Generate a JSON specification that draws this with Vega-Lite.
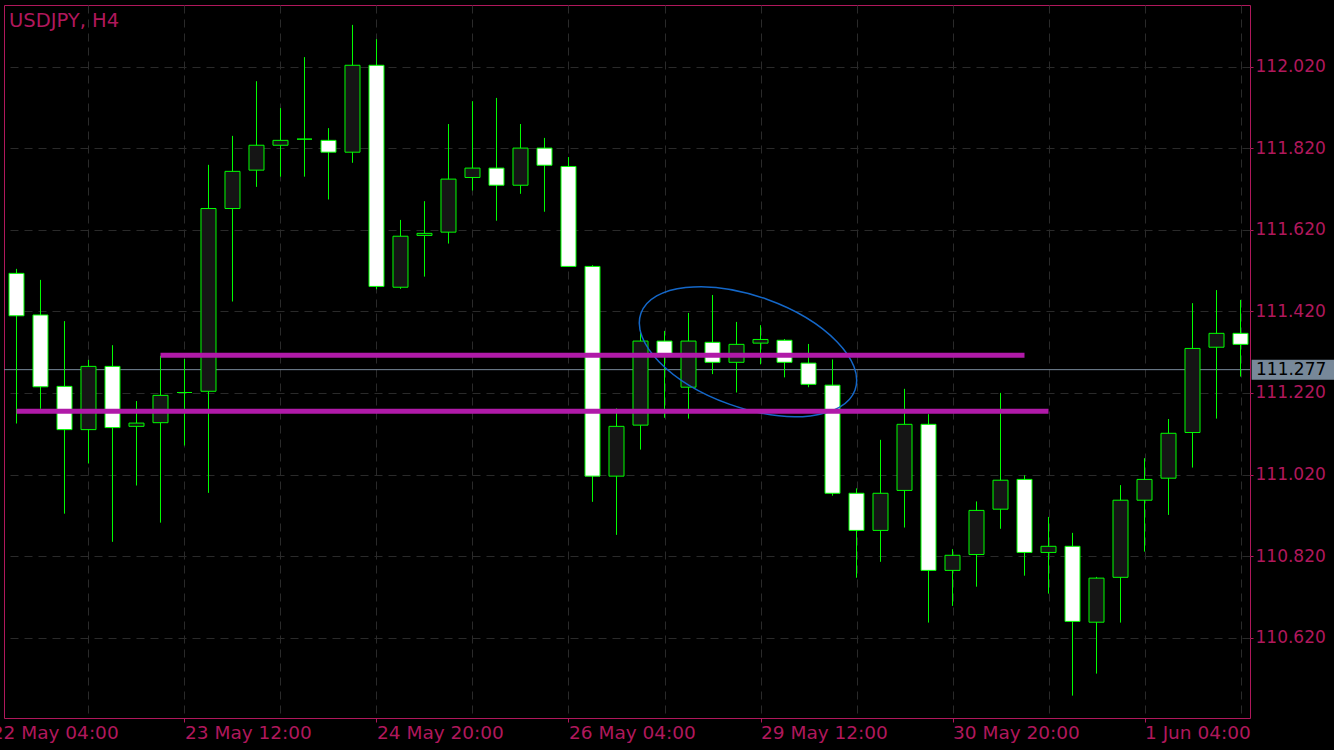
{
  "$schema": "https://vega.github.io/schema/vega-lite/v6.json",
  "autosize": "none",
  "width": 1246,
  "height": 713,
  "padding": {"left": 4, "top": 5, "right": 84, "bottom": 32},
  "background": "#000000",
  "title": {"text": "USDJPY, H4", "anchor": "start", "orient": "top", "frame": "group", "offset": -41, "dx": 5, "baseline": "alphabetic", "color": "#B0185C", "font": "DejaVu Sans", "fontSize": 19.5, "fontWeight": "normal"},
  "config": {"view": {"stroke": "#B0185C", "strokeWidth": 1}},
  "resolve": {"axis": {"x": "independent", "y": "independent"}},
  "datasets": {
    "candles": [
      {"i": 0, "t": "22 May 08:00", "o": 111.513, "h": 111.524, "l": 111.145, "c": 111.409},
      {"i": 1, "t": "22 May 12:00", "o": 111.411, "h": 111.497, "l": 111.181, "c": 111.235},
      {"i": 2, "t": "22 May 16:00", "o": 111.236, "h": 111.396, "l": 110.924, "c": 111.130},
      {"i": 3, "t": "22 May 20:00", "o": 111.130, "h": 111.301, "l": 111.047, "c": 111.285},
      {"i": 4, "t": "23 May 00:00", "o": 111.285, "h": 111.337, "l": 110.855, "c": 111.135},
      {"i": 5, "t": "23 May 04:00", "o": 111.138, "h": 111.200, "l": 110.993, "c": 111.146},
      {"i": 6, "t": "23 May 08:00", "o": 111.147, "h": 111.311, "l": 110.902, "c": 111.214},
      {"i": 7, "t": "23 May 12:00", "o": 111.221, "h": 111.303, "l": 111.091, "c": 111.221},
      {"i": 8, "t": "23 May 16:00", "o": 111.224, "h": 111.779, "l": 110.975, "c": 111.672},
      {"i": 9, "t": "23 May 20:00", "o": 111.672, "h": 111.850, "l": 111.444, "c": 111.763},
      {"i": 10, "t": "24 May 00:00", "o": 111.766, "h": 111.984, "l": 111.725, "c": 111.827},
      {"i": 11, "t": "24 May 04:00", "o": 111.827, "h": 111.918, "l": 111.750, "c": 111.839},
      {"i": 12, "t": "24 May 08:00", "o": 111.842, "h": 112.043, "l": 111.750, "c": 111.842},
      {"i": 13, "t": "24 May 12:00", "o": 111.839, "h": 111.869, "l": 111.694, "c": 111.810},
      {"i": 14, "t": "24 May 16:00", "o": 111.810, "h": 112.122, "l": 111.784, "c": 112.023},
      {"i": 15, "t": "24 May 20:00", "o": 112.023, "h": 112.087, "l": 111.474, "c": 111.481},
      {"i": 16, "t": "25 May 00:00", "o": 111.479, "h": 111.644, "l": 111.475, "c": 111.604},
      {"i": 17, "t": "25 May 04:00", "o": 111.606, "h": 111.690, "l": 111.505, "c": 111.611},
      {"i": 18, "t": "25 May 08:00", "o": 111.614, "h": 111.879, "l": 111.586, "c": 111.744},
      {"i": 19, "t": "25 May 12:00", "o": 111.748, "h": 111.935, "l": 111.716, "c": 111.771},
      {"i": 20, "t": "25 May 16:00", "o": 111.771, "h": 111.943, "l": 111.642, "c": 111.729},
      {"i": 21, "t": "25 May 20:00", "o": 111.729, "h": 111.879, "l": 111.708, "c": 111.820},
      {"i": 22, "t": "26 May 00:00", "o": 111.820, "h": 111.845, "l": 111.664, "c": 111.778},
      {"i": 23, "t": "26 May 04:00", "o": 111.775, "h": 111.798, "l": 111.529, "c": 111.530},
      {"i": 24, "t": "26 May 08:00", "o": 111.530, "h": 111.533, "l": 110.953, "c": 111.016},
      {"i": 25, "t": "26 May 12:00", "o": 111.016, "h": 111.182, "l": 110.872, "c": 111.138},
      {"i": 26, "t": "26 May 16:00", "o": 111.141, "h": 111.374, "l": 111.081, "c": 111.347},
      {"i": 27, "t": "26 May 20:00", "o": 111.347, "h": 111.372, "l": 111.159, "c": 111.313},
      {"i": 28, "t": "29 May 00:00", "o": 111.234, "h": 111.416, "l": 111.157, "c": 111.347},
      {"i": 29, "t": "29 May 04:00", "o": 111.344, "h": 111.460, "l": 111.266, "c": 111.295},
      {"i": 30, "t": "29 May 08:00", "o": 111.295, "h": 111.394, "l": 111.221, "c": 111.339},
      {"i": 31, "t": "29 May 12:00", "o": 111.342, "h": 111.386, "l": 111.290, "c": 111.351},
      {"i": 32, "t": "29 May 16:00", "o": 111.349, "h": 111.352, "l": 111.258, "c": 111.295},
      {"i": 33, "t": "29 May 20:00", "o": 111.293, "h": 111.340, "l": 111.234, "c": 111.241},
      {"i": 34, "t": "30 May 00:00", "o": 111.239, "h": 111.302, "l": 110.968, "c": 110.974},
      {"i": 35, "t": "30 May 04:00", "o": 110.974, "h": 110.986, "l": 110.767, "c": 110.883},
      {"i": 36, "t": "30 May 08:00", "o": 110.883, "h": 111.105, "l": 110.806, "c": 110.974},
      {"i": 37, "t": "30 May 12:00", "o": 110.981, "h": 111.230, "l": 110.890, "c": 111.143},
      {"i": 38, "t": "30 May 16:00", "o": 111.143, "h": 111.168, "l": 110.657, "c": 110.785},
      {"i": 39, "t": "30 May 20:00", "o": 110.785, "h": 110.837, "l": 110.698, "c": 110.822},
      {"i": 40, "t": "31 May 00:00", "o": 110.824, "h": 110.954, "l": 110.745, "c": 110.932},
      {"i": 41, "t": "31 May 04:00", "o": 110.935, "h": 111.220, "l": 110.887, "c": 111.006},
      {"i": 42, "t": "31 May 08:00", "o": 111.008, "h": 111.018, "l": 110.772, "c": 110.829},
      {"i": 43, "t": "31 May 12:00", "o": 110.829, "h": 110.916, "l": 110.728, "c": 110.844},
      {"i": 44, "t": "31 May 16:00", "o": 110.844, "h": 110.877, "l": 110.478, "c": 110.660},
      {"i": 45, "t": "31 May 20:00", "o": 110.658, "h": 110.769, "l": 110.532, "c": 110.766},
      {"i": 46, "t": "1 Jun 00:00", "o": 110.768, "h": 110.994, "l": 110.657, "c": 110.957},
      {"i": 47, "t": "1 Jun 04:00", "o": 110.957, "h": 111.060, "l": 110.831, "c": 111.008},
      {"i": 48, "t": "1 Jun 08:00", "o": 111.011, "h": 111.156, "l": 110.921, "c": 111.121},
      {"i": 49, "t": "1 Jun 12:00", "o": 111.123, "h": 111.440, "l": 111.037, "c": 111.329},
      {"i": 50, "t": "1 Jun 16:00", "o": 111.332, "h": 111.472, "l": 111.157, "c": 111.366},
      {"i": 51, "t": "1 Jun 20:00", "o": 111.366, "h": 111.448, "l": 111.260, "c": 111.339}
    ],
    "levels": [
      {"i0": 6, "i1": 42, "p": 111.3122},
      {"i0": 0, "i1": 43, "p": 111.1749}
    ],
    "zone": [{"i": 30.479, "p": 111.321}],
    "last": [{"p": 111.277, "label": "111.277"}]
  },
  "layer": [
    {
      "data": {"name": "last"},
      "mark": {"type": "rule", "color": "#778899", "strokeWidth": 1},
      "encoding": {
        "y": {"field": "p", "type": "quantitative", "scale": {"domain": [110.42319, 112.17074], "nice": false, "zero": false, "padding": 0},
          "axis": {"orient": "right", "values": [110.62, 110.82, 111.02, 111.22, 111.42, 111.62, 111.82, 112.02], "format": ".3f", "title": null, "domain": false, "grid": true, "gridColor": "#2a2a2a", "gridDash": [8, 6], "tickSize": 3, "tickColor": "#B0185C", "labelPadding": 2, "labelColor": "#B0185C", "labelFont": "DejaVu Sans", "labelFontSize": 17}}
      }
    },
    {
      "data": {"name": "candles"},
      "mark": {"type": "rule", "color": "#00FF00", "strokeWidth": 1},
      "encoding": {
        "x": {"field": "i", "type": "quantitative", "scale": {"domain": [-0.5208, 51.3958], "nice": false, "zero": false, "padding": 0},
          "axis": {"values": [-0.5208, 3, 7, 11, 15, 19, 23, 27, 31, 35, 39, 43, 47, 51],
            "labelExpr": "datum.value < 0 ? '22 May 04:00' : datum.value == 7 ? '23 May 12:00' : datum.value == 15 ? '24 May 20:00' : datum.value == 23 ? '26 May 04:00' : datum.value == 31 ? '29 May 12:00' : datum.value == 39 ? '30 May 20:00' : datum.value == 47 ? '1 Jun 04:00' : ''",
            "title": null, "domain": false, "grid": true, "gridColor": "#2a2a2a", "gridDash": [8, 6],
            "gridOpacity": {"condition": {"test": "datum.value < 0", "value": 0}, "value": 1},
            "tickSize": 4, "tickColor": "#B0185C",
            "tickOpacity": {"condition": {"test": "(datum.value + 1) % 8 == 0", "value": 1}, "value": 0},
            "labelOffset": {"condition": {"test": "datum.value < 0", "value": -12.7}, "value": 0},
            "labelAlign": "left", "labelBaseline": "top", "labelPadding": 1.5, "labelFlush": false, "labelBound": false, "labelOverlap": false,
            "labelColor": "#B0185C", "labelFont": "DejaVu Sans", "labelFontSize": 18.5}},
        "y": {"field": "l", "type": "quantitative", "axis": null},
        "y2": {"field": "h"}
      }
    },
    {
      "data": {"name": "candles"},
      "mark": {"type": "bar", "size": 15, "stroke": "#00FF00", "strokeWidth": 1, "orient": "vertical"},
      "encoding": {
        "x": {"field": "i", "type": "quantitative", "axis": null},
        "y": {"field": "o", "type": "quantitative", "axis": null},
        "y2": {"field": "c"},
        "fill": {"condition": {"test": "datum.c < datum.o", "value": "#ffffff"}, "value": "#151515"},
        "tooltip": [{"field": "t"}, {"field": "o"}, {"field": "h"}, {"field": "l"}, {"field": "c"}]
      }
    },
    {
      "data": {"name": "zone"},
      "mark": {"type": "point", "filled": false, "stroke": "#1467C8", "strokeWidth": 1.5, "opacity": 1, "size": 51711, "angle": 19.7,
        "shape": "M -1 0 C -1 -0.2706 -0.5523 -0.49 0 -0.49 C 0.5523 -0.49 1 -0.2706 1 0 C 1 0.2706 0.5523 0.49 0 0.49 C -0.5523 0.49 -1 0.2706 -1 0 Z"},
      "encoding": {
        "x": {"field": "i", "type": "quantitative", "axis": null},
        "y": {"field": "p", "type": "quantitative", "axis": null}
      }
    },
    {
      "data": {"name": "levels"},
      "mark": {"type": "rule", "color": "#B01AA8", "strokeWidth": 5, "strokeCap": "butt"},
      "encoding": {
        "x": {"field": "i0", "type": "quantitative", "axis": null},
        "x2": {"field": "i1"},
        "y": {"field": "p", "type": "quantitative", "axis": null}
      }
    },
    {
      "data": {"name": "last"},
      "mark": {"type": "point", "filled": true, "fill": "#778899", "stroke": null, "opacity": 1, "size": 28224,
        "shape": "M 0.02 -0.119 L 1 -0.119 L 1 0.119 L 0.02 0.119 Z"},
      "encoding": {
        "x": {"value": "width"},
        "y": {"field": "p", "type": "quantitative", "axis": null}
      }
    },
    {
      "data": {"name": "last"},
      "mark": {"type": "text", "align": "left", "baseline": "middle", "dx": 6, "color": "#000000", "font": "DejaVu Sans", "fontSize": 17},
      "encoding": {
        "x": {"value": "width"},
        "y": {"field": "p", "type": "quantitative", "axis": null},
        "text": {"field": "label"}
      }
    }
  ]
}
